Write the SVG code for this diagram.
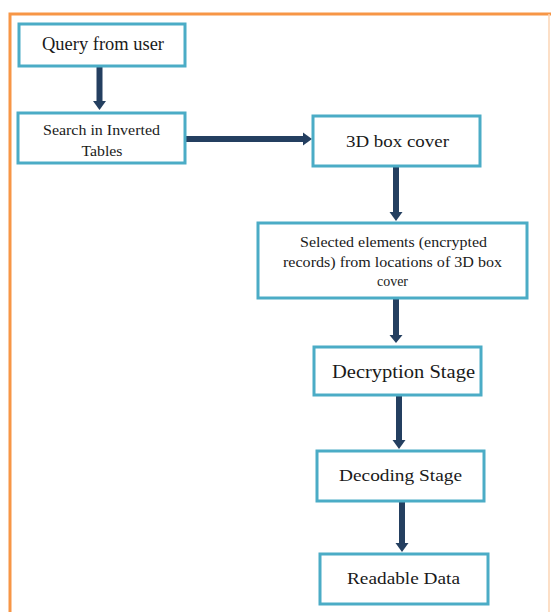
<svg xmlns="http://www.w3.org/2000/svg" width="552" height="612" viewBox="0 0 552 612">
<style>
.box{fill:#fff;stroke:#4bacc6;stroke-width:3}
.t{font-family:"Liberation Serif","Times New Roman",serif;fill:#1a1a1a;text-anchor:middle}
.c{stroke:#243f60;stroke-width:6;fill:none}
.h{fill:#243f60}
</style>
<rect x="0" y="0" width="552" height="612" fill="#fff"/>
<path d="M10 612 V14 H551" fill="none" stroke="#f79646" stroke-width="3"/>
<path d="M549 14 V612" fill="none" stroke="#fbd5b5" stroke-width="1.5"/>
<g id="connectors">
<line class="c" x1="99.5" y1="67" x2="99.5" y2="102"/><polygon class="h" points="93,101 106,101 99.5,110"/>
<line class="c" x1="185" y1="139" x2="304" y2="139"/><polygon class="h" points="303,132.5 303,145.5 312,139"/>
<line class="c" x1="396" y1="166" x2="396" y2="213"/><polygon class="h" points="389.5,212 402.5,212 396,221"/>
<line class="c" x1="396" y1="298" x2="396" y2="336"/><polygon class="h" points="389.5,335 402.5,335 396,343"/>
<line class="c" x1="399" y1="395" x2="399" y2="441"/><polygon class="h" points="392.5,440 405.5,440 399,449"/>
<line class="c" x1="402" y1="501" x2="402" y2="544"/><polygon class="h" points="395.5,543 408.5,543 402,552"/>
</g>
<g id="n1"><rect class="box" x="19" y="24" width="166" height="42"/><text class="t" x="103" y="50" font-size="18" textLength="122" lengthAdjust="spacingAndGlyphs">Query from user</text></g>
<g id="n2"><rect class="box" x="18" y="113" width="167" height="50"/><text class="t" x="101.5" y="135" font-size="14.5" textLength="117" lengthAdjust="spacingAndGlyphs">Search in Inverted</text><text class="t" x="102" y="156" font-size="14.5" textLength="41" lengthAdjust="spacingAndGlyphs">Tables</text></g>
<g id="n3"><rect class="box" x="313" y="116" width="167" height="50"/><text class="t" x="397.5" y="147" font-size="17" textLength="103" lengthAdjust="spacingAndGlyphs">3D box cover</text></g>
<g id="n4"><rect class="box" x="258" y="223" width="269" height="75"/><text class="t" x="393.5" y="247" font-size="15" textLength="187" lengthAdjust="spacingAndGlyphs">Selected elements (encrypted</text><text class="t" x="392.5" y="267" font-size="15" textLength="219" lengthAdjust="spacingAndGlyphs">records) from locations of 3D box</text><text class="t" x="392.5" y="286" font-size="15" textLength="31" lengthAdjust="spacingAndGlyphs">cover</text></g>
<g id="n5"><rect class="box" x="314" y="347" width="167" height="48"/><text class="t" x="403.5" y="378" font-size="18" textLength="143" lengthAdjust="spacingAndGlyphs">Decryption Stage</text></g>
<g id="n6"><rect class="box" x="317" y="451" width="167" height="50"/><text class="t" x="400.5" y="481" font-size="17" textLength="123" lengthAdjust="spacingAndGlyphs">Decoding Stage</text></g>
<g id="n7"><rect class="box" x="320" y="554" width="168" height="50"/><text class="t" x="403.5" y="584" font-size="17" textLength="113" lengthAdjust="spacingAndGlyphs">Readable Data</text></g>
</svg>
